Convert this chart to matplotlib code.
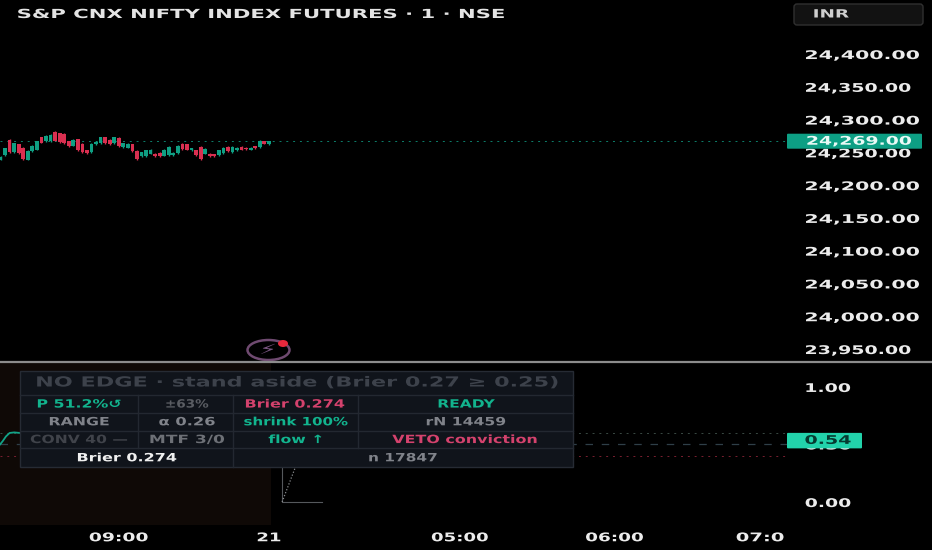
"""
NIFTY futures chart with the probability pane and the status table.
The reference is stretched sideways, so text is widened with a path effect.
"""

import matplotlib
matplotlib.use("Agg")
import matplotlib.pyplot as plt
from matplotlib.patches import Rectangle, FancyBboxPatch, Ellipse
from matplotlib.patheffects import AbstractPathEffect
from matplotlib.transforms import Affine2D

opens = [24241, 24248.5, 24271, 24252, 24264, 24259, 24241, 24253.5, 24256, 24275,
         24269, 24269, 24283, 24281.5, 24280, 24269, 24262, 24272, 24265, 24255,
         24252, 24264, 24266, 24275.5, 24271, 24266, 24274, 24260, 24259, 24264,
         24254, 24246, 24246, 24250, 24250, 24251, 24247, 24248.5, 24247.5, 24251,
         24265, 24264, 24255, 24255, 24260, 24250, 24250, 24249.5, 24248.5, 24251,
         24260, 24252, 24255, 24260, 24259, 24256, 24261, 24260, 24269, 24264]
closes = [24244.5, 24258, 24252, 24266, 24251, 24242, 24253.5, 24262, 24269, 24267,
          24277.5, 24279, 24270, 24268, 24266, 24261, 24271, 24255, 24252, 24251,
          24265, 24268, 24275.5, 24266, 24264, 24275.5, 24261, 24266, 24265, 24253.5,
          24242, 24252, 24255, 24256, 24246, 24246, 24256, 24260, 24251, 24262,
          24257, 24256, 24258, 24247.5, 24242, 24257, 24246, 24246, 24255, 24259,
          24253.5, 24260, 24259, 24256, 24257, 24259, 24258, 24270, 24265, 24269]
highs = [24246, 24259, 24272, 24267, 24265, 24260, 24255, 24263, 24270, 24276,
         24278, 24280, 24284, 24282, 24281, 24270, 24272, 24273, 24266, 24256,
         24266, 24269, 24276, 24276, 24272, 24276, 24275, 24267, 24266, 24265,
         24255, 24253, 24256, 24257, 24251, 24252, 24257, 24261, 24252, 24263,
         24266, 24265, 24259, 24256, 24261, 24258, 24251, 24250, 24256, 24260,
         24261, 24261, 24260, 24261, 24260, 24260, 24262, 24271, 24270, 24270]
lows = [24240, 24247, 24251, 24251, 24250, 24241, 24240, 24252, 24255, 24266,
        24268, 24268, 24269, 24267, 24265, 24260, 24261, 24254, 24251, 24250,
        24251, 24263, 24265, 24265, 24263, 24265, 24260, 24259, 24258, 24252,
        24241, 24245, 24245, 24249, 24245, 24245, 24246, 24247, 24246, 24250,
        24256, 24255, 24254, 24246, 24241, 24249, 24245, 24245, 24247, 24250,
        24252, 24251, 24254, 24255, 24256, 24255, 24257, 24259, 24264, 24263]
last_price = 24269

price_ticks = [24400, 24350, 24300, 24250, 24200, 24150, 24100, 24050, 24000, 23950]
price_tick_widths = [116, 107, 116, 107, 116, 116, 116, 116, 116, 107]

time_bars = [26, 59, 101, 135, 167]
time_labels = ["09:00", "21", "05:00", "06:00", "07:0"]
time_widths = [60, 25, 58, 59, 49]

prob_bars = [-0.1, 0.5, 1.2, 2, 3, 4.3]
prob_values = [0.50, 0.53, 0.57, 0.60, 0.605, 0.60]
last_prob = 0.54
prob_ticks = [1.0, 0.5, 0.0]
level_up, level_mid, level_down = 0.60, 0.50, 0.40

axis_bars = [61.9, 61.9, 70.7]
axis_values = [0.30, 0.0, 0.0]
diag_bars = [61.9, 64.8]
diag_values = [0.0, 0.30]

header_text = "NO EDGE · stand aside (Brier 0.27 ≥ 0.25)"
GREEN = "#12b48e"
PINK = "#d4426d"
GREY = "#80838a"
DIM = "#40434a"
# text, centre x, width in pixels, colour, weight
rows = [
    [("P 51.2%↺", 79, 85, GREEN, "bold"), ("±63%", 187, 44, "#5a5d63", "bold"),
     ("Brier 0.274", 295, 101, PINK, "bold"), ("READY", 466, 57, GREEN, "bold")],
    [("RANGE", 79, 61, GREY, "bold"), ("α 0.26", 187, 57, GREY, "bold"),
     ("shrink 100%", 296, 105, GREEN, "bold"), ("rN 14459", 466, 81, GREY, "bold")],
    [("CONV 40 —", 79, 98, DIM, "bold"), ("MTF 3/0", 187, 76, "#6d7076", "bold"),
     ("flow ↑", 296, 56, GREEN, "bold"), ("VETO conviction", 465, 146, PINK, "bold")],
    [("Brier 0.274", 127, 101, "#f0f0f0", "bold"), ("n 17847", 403, 70, GREY, "bold")],
]
row_edges = [395, 412.5, 430.5, 448, 467]


class StretchX(AbstractPathEffect):
    # widens the glyph outlines, the artist stays an ordinary Text
    def __init__(self, factor, origin="center"):
        super().__init__()
        self.factor = factor
        self.origin = origin

    def draw_path(self, renderer, gc, tpath, affine, rgbFace=None):
        box = tpath.get_extents()
        x0 = box.x0 if self.origin == "left" else (box.x0 + box.x1) / 2
        stretch = Affine2D().translate(-x0, 0).scale(self.factor, 1).translate(x0, 0)
        renderer.draw_path(gc, tpath, stretch + affine, rgbFace)


def fit_width(text, width, origin="center"):
    natural = text.get_window_extent(renderer).width
    text.set_path_effects([StretchX(width / natural, origin)])


fig = plt.figure(figsize=(9.32, 5.5), dpi=100, facecolor="black")
renderer = fig.canvas.get_renderer()

ax_price = fig.add_axes([0, 189 / 550, 787 / 932, 361 / 550], facecolor="black")
ax_prob = fig.add_axes([0, 25 / 550, 787 / 932, 163 / 550], facecolor="black")
over = fig.add_axes([0, 0, 1, 1], zorder=5)
over.set_xlim(0, 932)
over.set_ylim(550, 0)
over.axis("off")
over.patch.set_alpha(0)

bar_xlim = (-0.11, 172.9)

# candles
UP, DOWN = "#0f9f83", "#d92f50"
bar_x = list(range(len(opens)))
colors = [UP if c >= o else DOWN for o, c in zip(opens, closes)]
ax_price.vlines(bar_x, lows, highs, colors=colors, lw=1)
ax_price.bar(bar_x, [c - o for o, c in zip(opens, closes)], bottom=opens,
             width=0.82, color=colors, linewidth=0)
ax_price.axhline(last_price, color="#0d7f6b", lw=0.7, ls=(0, (2, 5)), zorder=0)
ax_price.set_xlim(*bar_xlim)
ax_price.set_ylim(23933.7, 24484.4)
ax_price.yaxis.tick_right()
ax_price.set_yticks(price_ticks)
ax_price.set_yticklabels([f"{p:,.2f}" for p in price_ticks], fontsize=8.6, weight="bold",
                         color="#ececec")
ax_price.tick_params(axis="y", length=0, pad=13)
ax_price.set_xticks([])
for lab, w in zip(ax_price.get_yticklabels(), price_tick_widths):
    fit_width(lab, w, "left")
    lab.set_transform(lab.get_transform() + Affine2D().translate(0, 1.3))

# probability pane
ax_prob.axvspan(-0.6, 59.5, color="#0f0906", lw=0, zorder=0)
ax_prob.axhline(level_up, color="#3a4a44", lw=0.7, ls=(0, (2, 5)))
ax_prob.axhline(level_mid, color="#2f3f48", lw=0.9, ls=(0, (6, 7)))
ax_prob.axhline(level_down, color="#7a1f30", lw=0.7, ls=(0, (2, 5)))
ax_prob.plot(prob_bars, prob_values, color="#12a488", lw=1.3)
ax_prob.plot(axis_bars, axis_values, color="#55585c", lw=0.8)
ax_prob.plot(diag_bars, diag_values, color="#8a8d90", lw=0.9, ls=(0, (1, 1.5)))
ax_prob.set_xlim(*bar_xlim)
ax_prob.set_ylim(-0.2, 1.217)
ax_prob.yaxis.tick_right()
ax_prob.set_yticks(prob_ticks)
ax_prob.set_yticklabels([f"{v:.2f}" for v in prob_ticks], fontsize=8.6, weight="bold",
                        color="#ececec")
ax_prob.tick_params(axis="y", length=0, pad=13)
ax_prob.set_xticks(time_bars)
ax_prob.set_xticklabels(time_labels, fontsize=8.6, weight="bold", color="#ececec")
ax_prob.tick_params(axis="x", length=0, pad=4.5)
for lab in ax_prob.get_yticklabels():
    fit_width(lab, 47, "left")
for lab, w in zip(ax_prob.get_xticklabels(), time_widths):
    fit_width(lab, w)

for ax in (ax_price, ax_prob):
    for spine in ax.spines.values():
        spine.set_visible(False)


def put(x, y, s, width, color, weight="bold", size=8.2):
    t = over.text(x, y, s, ha="center", va="center", color=color, fontsize=size,
                  weight=weight, family=["DejaVu Sans"])
    fit_width(t, width)
    return t


# separator between panes
over.plot([0, 932], [362, 362], color="#8c8c8c", lw=1.6)

# title and currency box
put(260.5, 14.5, "S&P CNX NIFTY INDEX FUTURES · 1 · NSE", 487, "#e4e4e4", size=9)
over.add_patch(FancyBboxPatch((794, 4), 129, 21, boxstyle="round,pad=0,rounding_size=3",
                              fc="#121212", ec="#303030", lw=1))
put(831, 14.5, "INR", 36, "#cfcfcf")

# price and probability tags
tag_y = 550 - ax_price.transData.transform((0, last_price))[1]
over.add_patch(FancyBboxPatch((787, tag_y - 7.5), 135, 15,
                              boxstyle="round,pad=0,rounding_size=1",
                              fc="#0d9f84", ec="none"))
put(859, tag_y, f"{last_price:,.2f}", 106, "#eafaf6", size=8.6)
prob_y = 550 - ax_prob.transData.transform((0, last_prob))[1]
over.add_patch(FancyBboxPatch((787, prob_y - 7), 75, 15.5,
                              boxstyle="round,pad=0,rounding_size=1",
                              fc="#22d3ab", ec="none"))
put(828, prob_y + 0.5, f"{last_prob:.2f}", 47, "#063a30", size=8.6)

# alert icon
over.add_patch(Ellipse((268.5, 350), 42, 20, fc="none", ec="#6f4a70", lw=1.8))
put(268, 350, "⚡", 18, "#7a5580", size=10)
over.add_patch(Ellipse((283, 343.5), 10, 7, fc="#e8283c", ec="none"))

# status table
over.add_patch(Rectangle((20, 371), 553, 96, fc="#10141b", ec="#262b34", lw=1, zorder=2))
for y in row_edges[:-1]:
    over.plot([20, 573], [y, y], color="#232831", lw=1, zorder=3)
for x in (138, 358):
    over.plot([x, x], [395, 448], color="#232831", lw=1, zorder=3)
over.plot([233, 233], [395, 467], color="#232831", lw=1, zorder=3)
put(297.5, 382.5, header_text, 525, "#3d424b", size=10).set_zorder(4)
for row, y0, y1 in zip(rows, row_edges[:-1], row_edges[1:]):
    for s, x, w, col, wt in row:
        put(x, (y0 + y1) / 2 + 0.8, s, w, col, weight=wt).set_zorder(4)

over.set_xlim(0, 932)
over.set_ylim(550, 0)
fig.savefig("out.png", dpi=100, facecolor="black")
plt.close(fig)
